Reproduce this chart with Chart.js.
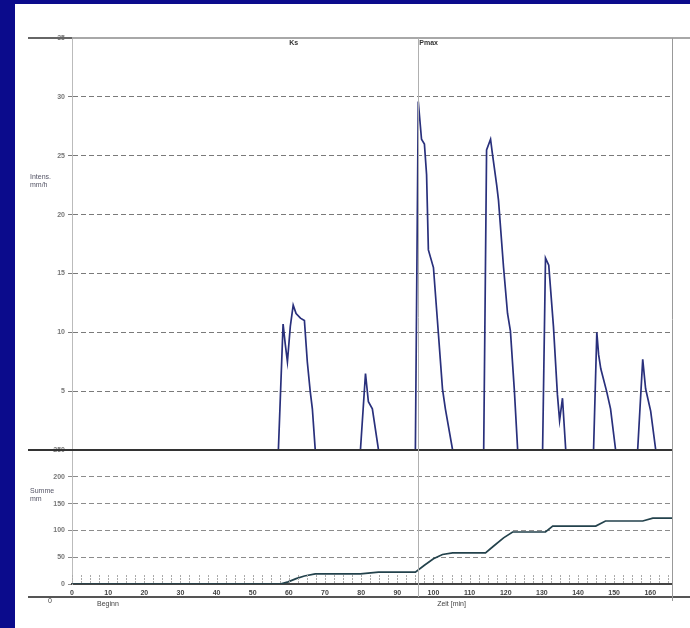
<!DOCTYPE html>
<html>
<head>
<meta charset="utf-8">
<script src="https://cdn.jsdelivr.net/npm/chart.js@4/dist/chart.umd.min.js"></script>
<style>
  html, body { margin: 0; padding: 0; width: 690px; height: 628px; overflow: hidden; background: #0b0b8c; }
  #panel { position: absolute; left: 15px; top: 4px; width: 675px; height: 624px; background: #ffffff; }
  canvas { display: block; }
</style>
</head>
<body>
<div id="panel"><canvas id="rain" width="675" height="624"></canvas></div>
<script>
// Rainfall intensity (mm/h) over time (min)
const timeMin = [0, 57.1, 58.4, 59.0, 59.6, 60.4, 61.2, 62.0, 63.2, 64.3, 65.1, 65.9, 66.5, 67.3,
  79.8, 81.2, 82.0, 83.1, 84.8,
  95.0, 95.8, 96.7, 97.5, 98.1, 98.6, 100.0, 101.1, 102.5, 103.3, 105.3,
  113.9, 114.7, 115.8, 116.3, 117.5, 118.0, 119.4, 120.5, 121.3, 122.4, 123.3,
  130.2, 131.0, 131.9, 133.2, 134.3, 134.9, 135.7, 136.6,
  144.3, 145.2, 145.7, 146.3, 147.9, 149.0, 150.4,
  156.5, 157.9, 158.7, 160.1, 161.5, 166];
const intensity = [0, 0, 10.7, 9.0, 7.5, 10.5, 12.3, 11.6, 11.2, 11.0, 7.5, 5.0, 3.5, 0,
  0, 6.5, 4.1, 3.5, 0,
  0, 29.6, 26.4, 26.0, 23.4, 17.0, 15.5, 11.0, 5.2, 3.5, 0,
  0, 25.5, 26.4, 25.2, 22.5, 21.2, 15.5, 11.6, 10.1, 5.0, 0,
  0, 16.3, 15.7, 10.5, 4.7, 2.5, 4.4, 0,
  0, 10.0, 8.1, 6.9, 5.0, 3.5, 0,
  0, 7.7, 5.2, 3.3, 0, 0];

// Cumulative rainfall (mm)
const cumTime = [0, 57.6, 59.8, 62.0, 64.3, 67.3, 79.8, 84.8, 95.0, 97.5, 100.0, 102.5, 105.3,
  114.4, 116.5, 119.4, 121.9, 131.0, 133.0, 144.9, 147.6, 157.9, 160.7, 166];
const cumRain = [0, 0, 4, 10, 15, 19, 19, 22, 22, 35, 47, 55, 58,
  58, 70, 86, 97, 97, 108, 108, 117.5, 117.5, 123, 123];

// Axis ticks and annotations
const timeTicks = [0, 10, 20, 30, 40, 50, 60, 70, 80, 90, 100, 110, 120, 130, 140, 150, 160];
const intensityTicks = [0, 5, 10, 15, 20, 25, 30, 35];
const cumTicks = [0, 50, 100, 150, 200, 250];
const markerTimes = [59.8, 95.8];
const markerLabels = ['Ks', 'Pmax'];
const peakMarker = 95.8;

const toPoints = (xs, ys) => xs.map((x, i) => ({ x: x, y: ys[i] }));
const tickFont = { family: 'Arial, "Liberation Sans", sans-serif', size: 7, weight: 'bold' };

const frame = {
  id: 'frame',
  afterDraw(chart) {
    const ctx = chart.ctx;
    const a = chart.chartArea;
    const xs = chart.scales.x;
    const yi = chart.scales.yInt;
    const W = chart.width;
    ctx.save();

    // top rule
    const yTop = yi.getPixelForValue(35);
    ctx.lineWidth = 2;
    ctx.strokeStyle = '#a8a8a8';
    ctx.beginPath(); ctx.moveTo(13, yTop); ctx.lineTo(W, yTop); ctx.stroke();
    ctx.strokeStyle = '#666';
    ctx.beginPath(); ctx.moveTo(13, yTop); ctx.lineTo(a.left, yTop); ctx.stroke();

    // separator between the two panels
    const ySep = yi.getPixelForValue(0);
    ctx.strokeStyle = '#333';
    ctx.lineWidth = 2;
    ctx.beginPath(); ctx.moveTo(13, ySep); ctx.lineTo(a.right, ySep); ctx.stroke();

    // small marks just above the time axis
    ctx.strokeStyle = '#aaa';
    ctx.lineWidth = 1;
    ctx.setLineDash([2, 1]);
    for (let v = 0; v <= 166; v += 2.5) {
      const px = Math.round(xs.getPixelForValue(v)) + 0.5;
      ctx.beginPath(); ctx.moveTo(px, a.bottom - 9); ctx.lineTo(px, a.bottom - 1); ctx.stroke();
    }
    ctx.setLineDash([]);

    // lower rule under the time labels
    const yLow = a.bottom + 13;
    ctx.strokeStyle = '#555';
    ctx.lineWidth = 2;
    ctx.beginPath(); ctx.moveTo(13, yLow); ctx.lineTo(W, yLow); ctx.stroke();

    // right border
    ctx.strokeStyle = '#999';
    ctx.lineWidth = 1;
    ctx.beginPath(); ctx.moveTo(a.right + 0.5, yTop); ctx.lineTo(a.right + 0.5, yLow + 4); ctx.stroke();

    // peak marker
    const pk = Math.round(xs.getPixelForValue(peakMarker)) + 0.5;
    ctx.strokeStyle = '#b0b0b0';
    ctx.beginPath(); ctx.moveTo(pk, yTop); ctx.lineTo(pk, yLow); ctx.stroke();

    // annotation labels
    ctx.fillStyle = '#333';
    ctx.font = 'bold 7px Arial, "Liberation Sans", sans-serif';
    ctx.textBaseline = 'middle';
    ctx.textAlign = 'left';
    markerTimes.forEach((t, i) => {
      ctx.fillText(markerLabels[i], xs.getPixelForValue(t) + 1, yTop + 5);
    });

    // axis titles
    ctx.fillStyle = '#556';
    ctx.font = '7px Arial, "Liberation Sans", sans-serif';
    ctx.fillText('Intens.', 15, 173);
    ctx.fillText('mm/h', 15, 181);
    ctx.fillText('Summe', 15, 487);
    ctx.fillText('mm', 15, 495);

    ctx.fillStyle = '#444';
    ctx.fillText('0', 33, yLow + 4);
    ctx.fillText('Beginn', 82, yLow + 7);
    ctx.textAlign = 'center';
    ctx.fillText('Zeit [min]', xs.getPixelForValue(105), yLow + 7);
    ctx.restore();
  }
};

new Chart(document.getElementById('rain'), {
  type: 'line',
  data: {
    datasets: [
      {
        label: 'Intensität',
        data: toPoints(timeMin, intensity),
        yAxisID: 'yInt',
        borderColor: '#29307c',
        borderWidth: 1.7,
        pointRadius: 0,
        tension: 0
      },
      {
        label: 'Summe',
        data: toPoints(cumTime, cumRain),
        yAxisID: 'yCum',
        borderColor: '#23424c',
        borderWidth: 1.7,
        pointRadius: 0,
        tension: 0
      }
    ]
  },
  options: {
    responsive: false,
    animation: false,
    layout: { padding: { top: 34, right: 18, left: 0, bottom: 0 } },
    plugins: { legend: { display: false }, tooltip: { enabled: false } },
    scales: {
      x: {
        type: 'linear', min: 0, max: 166, position: 'bottom',
        afterBuildTicks(s) { s.ticks = timeTicks.map(v => ({ value: v })); },
        ticks: { color: '#444', font: tickFont, padding: 2, maxRotation: 0, autoSkip: false },
        grid: { display: false, tickLength: 3 },
        border: { color: '#444', width: 2 },
        afterFit(s) { s.height = 44; }
      },
      yCum: {
        type: 'linear', position: 'left', stack: 'rain', stackWeight: 134,
        min: 0, max: 250,
        afterBuildTicks(s) { s.ticks = cumTicks.map(v => ({ value: v })); },
        ticks: { color: '#777', font: tickFont, padding: 3 },
        grid: { color: '#8c8c8c', lineWidth: 1, tickLength: 4 },
        border: { color: '#bbb', width: 1, dash: [5, 3] },
        afterFit(s) { s.width = 57; }
      },
      yInt: {
        type: 'linear', position: 'left', stack: 'rain', stackWeight: 412,
        min: 0, max: 35,
        afterBuildTicks(s) { s.ticks = intensityTicks.map(v => ({ value: v })); },
        ticks: { color: '#777', font: tickFont, padding: 3, callback: v => (v === 0 ? '' : String(v)) },
        grid: { color: '#7a7a7a', lineWidth: 1, tickLength: 4 },
        border: { color: '#bbb', width: 1, dash: [5, 3] },
        afterFit(s) { s.width = 57; }
      }
    }
  },
  plugins: [frame]
});
</script>
</body>
</html>
